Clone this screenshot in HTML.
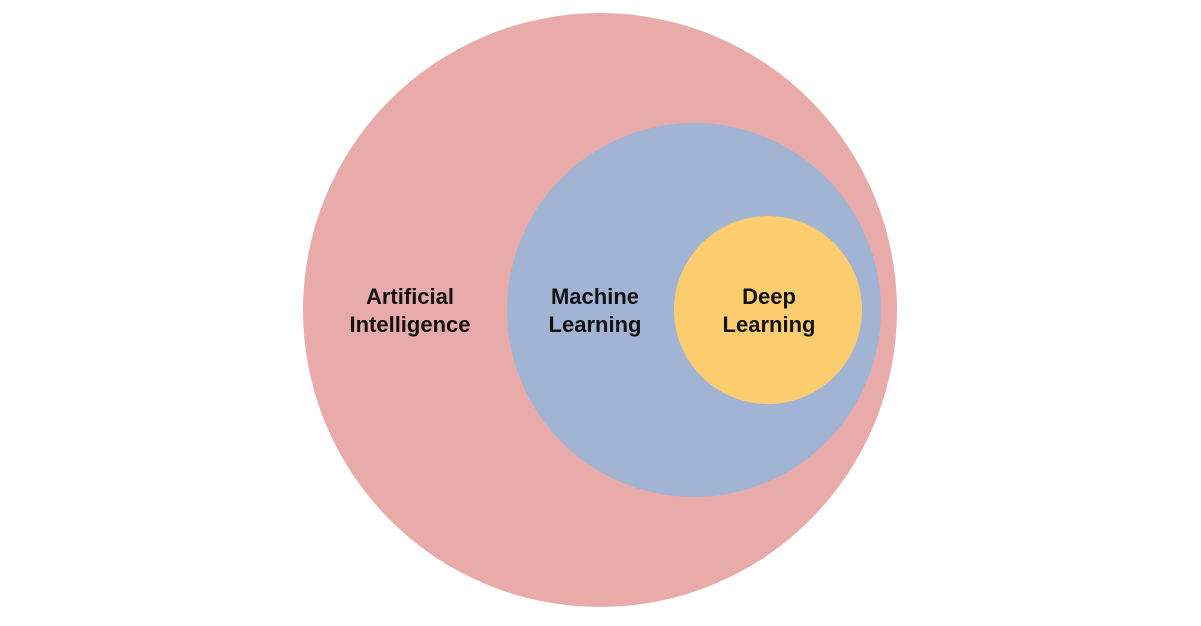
<!DOCTYPE html>
<html><head><meta charset="utf-8"><style>
html,body{margin:0;padding:0;background:#fff;}
body{width:1201px;height:621px;overflow:hidden;}
</style></head><body>
<svg width="1201" height="621" viewBox="0 0 1201 621" xmlns="http://www.w3.org/2000/svg">
<circle cx="600" cy="310" r="297" fill="#E8ABAA"/>
<circle cx="694" cy="310" r="187" fill="#A1B4D4"/>
<circle cx="768" cy="310" r="94" fill="#FCCD6E"/>
<g font-family="Liberation Sans, sans-serif" font-weight="bold" font-size="22" fill="#111" text-anchor="middle">
<text x="410" y="304">Artificial</text>
<text x="410" y="332">Intelligence</text>
<text x="595" y="304">Machine</text>
<text x="595" y="332">Learning</text>
<text x="769" y="304">Deep</text>
<text x="769" y="332">Learning</text>
</g>
</svg>
</body></html>
